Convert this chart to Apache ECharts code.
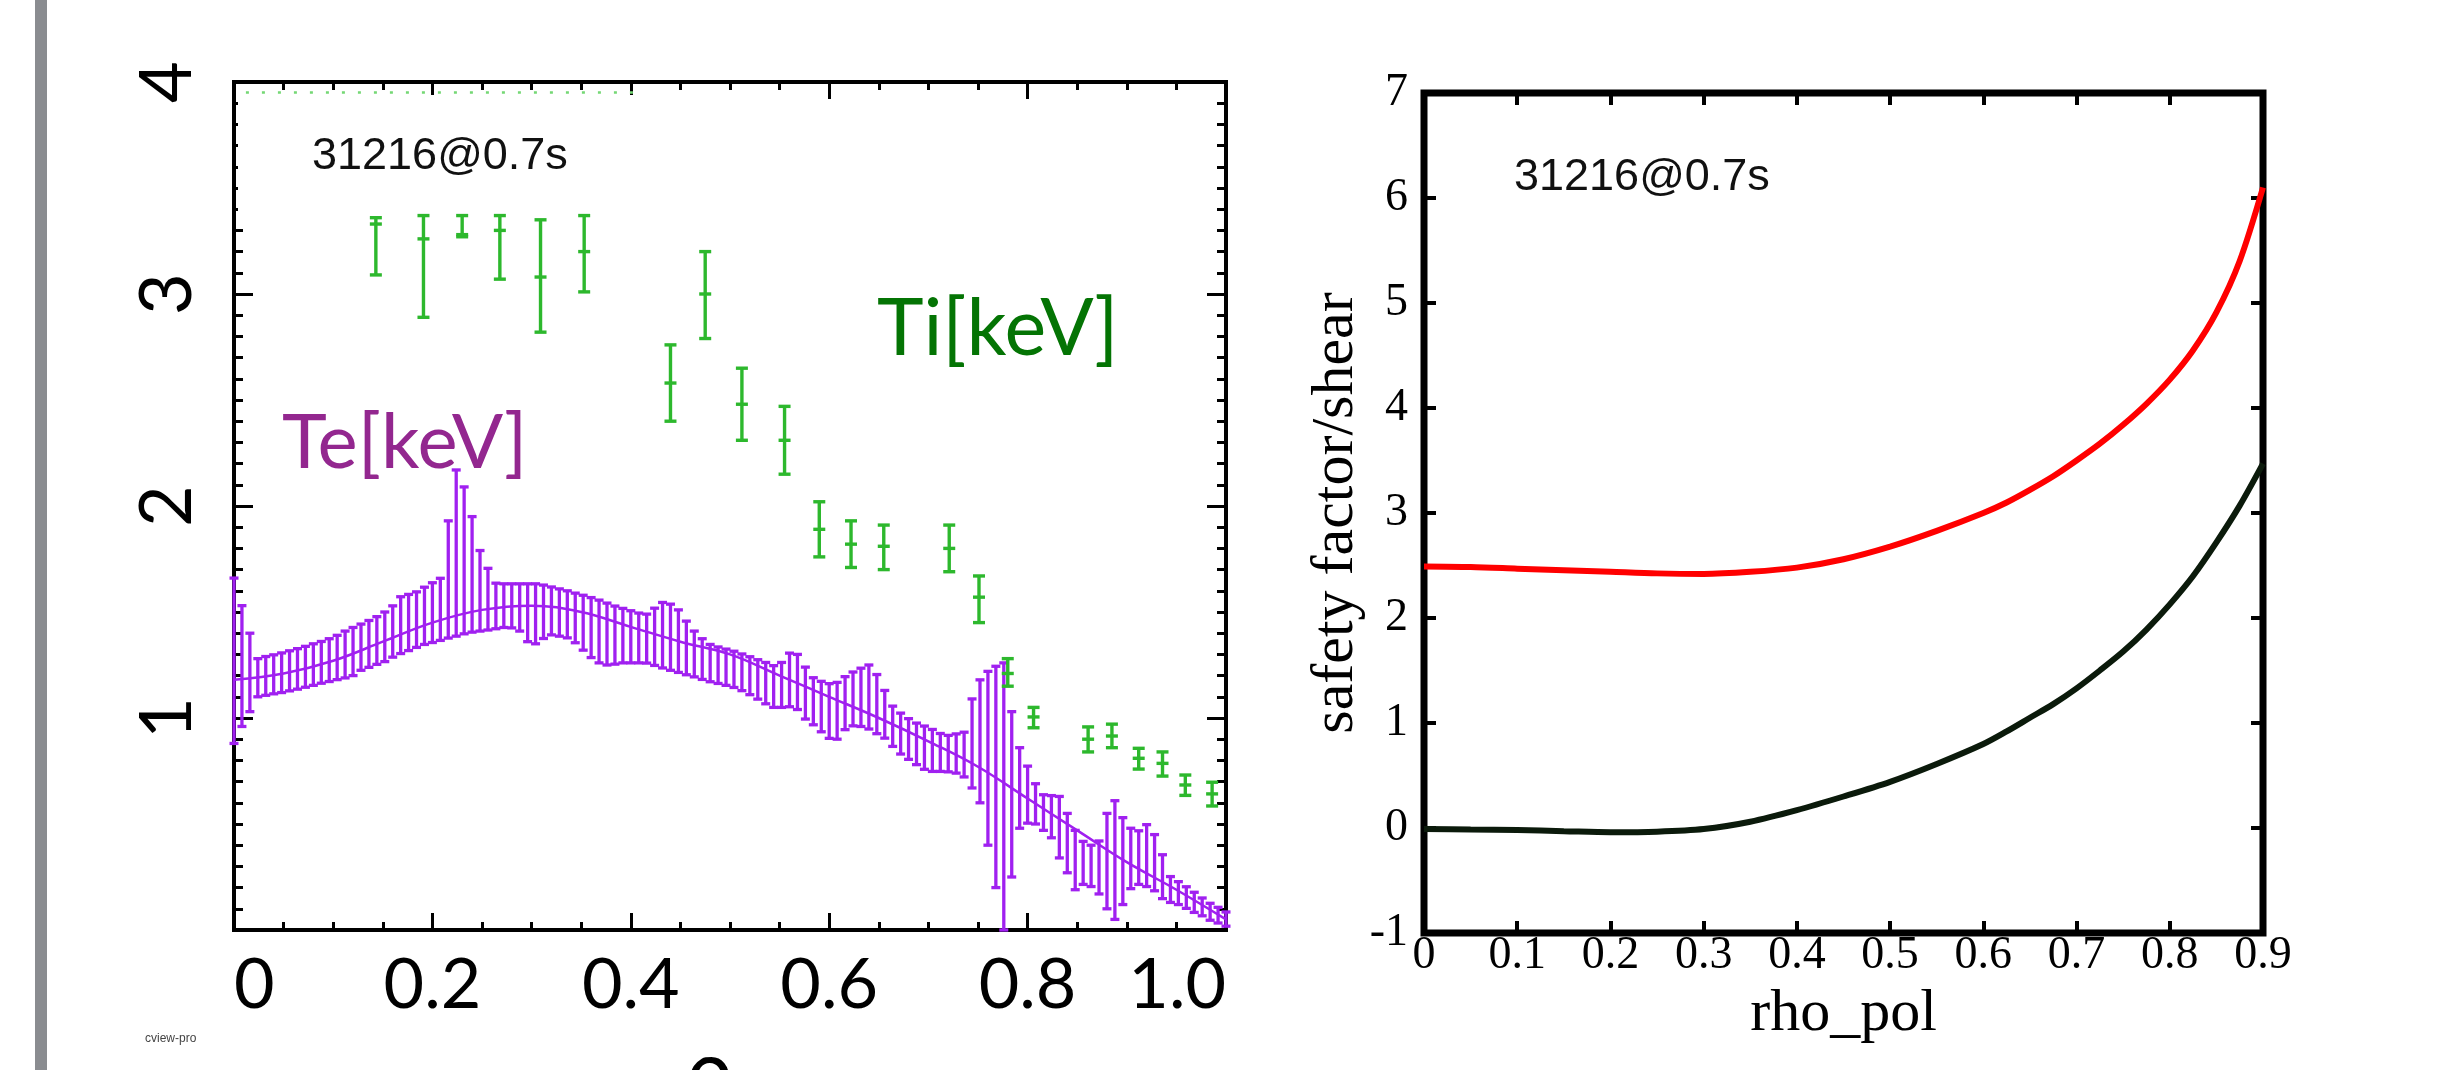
<!DOCTYPE html>
<html><head><meta charset="utf-8">
<script src="https://cdn.jsdelivr.net/npm/echarts/dist/echarts.min.js"></script>
<style>html,body{margin:0;padding:0;background:#fff}#c{width:2443px;height:1070px}</style>
</head><body><div id="c"></div>
<script>
// ---------- Left panel: Te (purple error bars + fit) and Ti (green error bars) ----------
const teRho = [0,.008,.016,.024,.032,.04,.048,.056,.064,.072,.08,.088,.096,.104,.112,.12,.128,.136,.144,.152,
  .16,.168,.176,.184,.192,.2,.208,.216,.224,.232,.24,.248,.256,.264,.272,.28,.288,.296,.304,.312,
  .32,.328,.336,.344,.352,.36,.368,.376,.384,.392,.4,.408,.416,.424,.432,.44,.448,.456,.464,.472,
  .48,.488,.496,.504,.512,.52,.528,.536,.544,.552,.56,.568,.576,.584,.592,.6,.608,.616,.624,.632,
  .64,.648,.656,.664,.672,.68,.688,.696,.704,.712,.72,.728,.736,.744,.752,.76,.768,.776,.784,.792,
  .8,.808,.816,.824,.832,.84,.848,.856,.864,.872,.88,.888,.896,.904,.912,.92,.928,.936,.944,.952,
  .96,.968,.976,.984,.992,1.0];
const teHigh = [1.66,1.53,1.40,1.28,1.29,1.298,1.307,1.317,1.327,1.338,
  1.35,1.361,1.374,1.39,1.41,1.427,1.443,1.46,1.478,1.50,
  1.529,1.572,1.583,1.595,1.617,1.638,1.659,1.93,2.17,2.09,
  1.95,1.79,1.706,1.636,1.633,1.633,1.633,1.633,1.633,1.627,
  1.618,1.609,1.60,1.589,1.579,1.568,1.556,1.542,1.528,1.517,
  1.506,1.495,1.49,1.518,1.545,1.537,1.51,1.457,1.41,1.374,
  1.347,1.335,1.325,1.315,1.302,1.289,1.275,1.262,1.247,1.262,
  1.306,1.30,1.24,1.19,1.173,1.162,1.168,1.195,1.217,1.235,
  1.25,1.205,1.13,1.056,1.023,0.997,0.976,0.962,0.946,0.927,
  0.918,0.925,0.933,1.09,1.18,1.22,1.244,1.26,1.03,0.86,
  0.773,0.69,0.638,0.634,0.63,0.55,0.47,0.418,0.40,0.42,
  0.55,0.61,0.53,0.48,0.468,0.497,0.45,0.355,0.252,0.228,
  0.204,0.178,0.151,0.126,0.107,0.085];
const teLow = [0.88,0.96,1.03,1.10,1.107,1.114,1.12,1.128,1.136,1.145,
  1.154,1.164,1.172,1.181,1.189,1.20,1.225,1.239,1.253,1.266,
  1.287,1.304,1.318,1.333,1.347,1.356,1.366,1.377,1.386,1.397,
  1.405,1.41,1.415,1.421,1.427,1.425,1.41,1.36,1.35,1.375,
  1.392,1.386,1.378,1.355,1.32,1.285,1.26,1.25,1.254,1.26,
  1.26,1.26,1.259,1.248,1.236,1.225,1.215,1.204,1.194,1.182,
  1.171,1.163,1.154,1.144,1.129,1.11,1.089,1.067,1.05,1.05,
  1.053,1.04,0.995,0.968,0.935,0.904,0.90,0.945,0.963,0.96,
  0.948,0.926,0.905,0.866,0.83,0.805,0.78,0.758,0.748,0.748,
  0.746,0.74,0.722,0.67,0.60,0.40,0.20,0.0,0.25,0.48,
  0.504,0.50,0.47,0.435,0.34,0.27,0.19,0.215,0.205,0.17,
  0.10,0.05,0.12,0.195,0.215,0.205,0.185,0.148,0.13,0.12,
  0.102,0.083,0.067,0.046,0.033,0.018];
const teFitRho = [0,0.05,0.1,0.15,0.2,0.25,0.3,0.35,0.4,0.45,0.5,0.55,0.6,0.65,0.7,0.75,0.8,0.85,0.9,0.95,1.0];
const teFit    = [1.18,1.21,1.27,1.36,1.45,1.51,1.53,1.50,1.43,1.36,1.30,1.20,1.10,1.00,0.89,0.77,0.62,0.47,0.32,0.19,0.05];

const tiRho  = [0.143,0.191,0.230,0.268,0.309,0.353,0.440,0.475,0.512,0.555,0.590,0.622,0.655,0.721,0.751,0.780,0.806,0.861,0.885,0.912,0.936,0.959,0.986];
const tiVal  = [3.33,3.26,3.28,3.30,3.08,3.20,2.58,3.00,2.48,2.31,1.89,1.82,1.81,1.80,1.57,1.21,1.005,0.90,0.915,0.81,0.786,0.684,0.642];
const tiLow  = [3.09,2.89,3.27,3.07,2.82,3.01,2.40,2.79,2.31,2.15,1.76,1.71,1.70,1.69,1.45,1.15,0.954,0.84,0.86,0.759,0.726,0.635,0.585];
const tiHigh = [3.36,3.37,3.37,3.37,3.35,3.37,2.76,3.20,2.65,2.47,2.02,1.93,1.91,1.91,1.67,1.28,1.05,0.958,0.971,0.857,0.84,0.731,0.697];
const tiClipRho = [0.012,0.415];
const tiClipVal = [3.95,3.95];

const leftXTicks = ['0','0.2','0.4','0.6','0.8','1.0'];
const leftYTicks = ['','1','2','3','4'];

// ---------- Right panel: safety factor and shear ----------
const qRho   = [0,0.05,0.1,0.15,0.2,0.25,0.3,0.35,0.4,0.45,0.5,0.55,0.6,0.625,0.65,0.675,0.7,0.725,0.75,0.775,0.8,0.825,0.85,0.875,0.9];
const qVal   = [2.49,2.485,2.47,2.455,2.44,2.425,2.42,2.44,2.48,2.56,2.68,2.83,3.0,3.1,3.22,3.35,3.5,3.66,3.84,4.04,4.27,4.55,4.91,5.4,6.1];
const shear  = [-0.01,-0.015,-0.02,-0.03,-0.04,-0.035,-0.01,0.06,0.17,0.30,0.44,0.61,0.80,0.92,1.05,1.18,1.33,1.50,1.68,1.89,2.13,2.40,2.72,3.07,3.47];
const rightXTicks = ['0','0.1','0.2','0.3','0.4','0.5','0.6','0.7','0.8','0.9'];
const rightYTicks = ['-1','0','1','2','3','4','5','6','7'];

const TE_COLOR = '#a020f0', TI_COLOR = '#2db82d';

function clampY(cs, y){ return Math.max(cs.y, Math.min(cs.y + cs.height, y)); }
function teItem(params, api){
  const cs = params.coordSys;
  const x = api.value(0);
  const pLo = api.coord([x, api.value(1)]), pHi = api.coord([x, api.value(2)]);
  const y1 = clampY(cs, pHi[1]), y2 = clampY(cs, pLo[1]);
  const hw = 4.5, st = {stroke: TE_COLOR, lineWidth: 3.3};
  return {type:'group', children:[
    {type:'line', shape:{x1:pLo[0], y1:y1, x2:pLo[0], y2:y2}, style:st},
    {type:'line', shape:{x1:pLo[0]-hw, y1:y1, x2:pLo[0]+hw, y2:y1}, style:st},
    {type:'line', shape:{x1:pLo[0]-hw, y1:y2, x2:pLo[0]+hw, y2:y2}, style:st}
  ]};
}
function tiItem(params, api){
  const cs = params.coordSys;
  const x = api.value(0);
  const pC = api.coord([x, api.value(1)]);
  const pLo = api.coord([x, api.value(2)]), pHi = api.coord([x, api.value(3)]);
  const y1 = clampY(cs, pHi[1]), y2 = clampY(cs, pLo[1]);
  const hw = 6, st = {stroke: TI_COLOR, lineWidth: 3.4};
  return {type:'group', children:[
    {type:'line', shape:{x1:pC[0], y1:y1, x2:pC[0], y2:y2}, style:st},
    {type:'line', shape:{x1:pC[0]-hw, y1:y1, x2:pC[0]+hw, y2:y1}, style:st},
    {type:'line', shape:{x1:pC[0]-hw, y1:y2, x2:pC[0]+hw, y2:y2}, style:st},
    {type:'line', shape:{x1:pC[0]-hw, y1:pC[1], x2:pC[0]+hw, y2:pC[1]}, style:st}
  ]};
}

const chart = echarts.init(document.getElementById('c'), null, {renderer:'canvas', width:2443, height:1070});

const leftTickStyle = {color:'#000', width:3};
const rightTickStyle = {color:'#000', width:4};
const noLine = {show:false, onZero:false};

const option = {
  backgroundColor: '#fff',
  animation: false,
  grid: [
    {left:234, top:82, width:992, height:848, show:true, borderColor:'#000', borderWidth:4, backgroundColor:'transparent', containLabel:false, outerBoundsMode:'none'},
    {left:1424, top:93, width:839, height:840, show:true, borderColor:'#000', borderWidth:7, backgroundColor:'transparent', containLabel:false, outerBoundsMode:'none'}
  ],
  xAxis: [
    {gridIndex:0, type:'value', position:'bottom', min:0, max:1, interval:0.2,
     axisLine:noLine, splitLine:{show:false},
     axisTick:{show:true, inside:true, length:17, lineStyle:leftTickStyle},
     minorTick:{show:true, splitNumber:4, length:8, lineStyle:leftTickStyle},
     axisLabel:{show:true, fontFamily:'Lato', fontSize:70, color:'#000', margin:20,
       alignMinLabel:'left', alignMaxLabel:'right',
       formatter: v => leftXTicks[Math.round(v/0.2)]}},
    {gridIndex:0, type:'value', position:'top', min:0, max:1, interval:0.2,
     axisLine:noLine, splitLine:{show:false},
     axisTick:{show:true, inside:true, length:17, lineStyle:leftTickStyle},
     minorTick:{show:true, splitNumber:4, length:8, lineStyle:leftTickStyle},
     axisLabel:{show:false}},
    {gridIndex:1, type:'value', position:'bottom', min:0, max:0.9, interval:0.1,
     axisLine:noLine, splitLine:{show:false},
     axisTick:{show:true, inside:true, length:12, lineStyle:rightTickStyle},
     axisLabel:{show:true, fontFamily:'Liberation Serif', fontSize:46, color:'#000', margin:0,
       formatter: v => rightXTicks[Math.round(v*10)]},
     name:'rho_pol', nameLocation:'middle', nameGap:16,
     nameTextStyle:{fontFamily:'Liberation Serif', fontSize:60, color:'#000'}},
    {gridIndex:1, type:'value', position:'top', min:0, max:0.9, interval:0.1,
     axisLine:noLine, splitLine:{show:false},
     axisTick:{show:true, inside:true, length:12, lineStyle:rightTickStyle},
     axisLabel:{show:false}}
  ],
  yAxis: [
    {gridIndex:0, type:'value', position:'left', min:0, max:4, interval:1,
     axisLine:noLine, splitLine:{show:false},
     axisTick:{show:true, inside:true, length:19, lineStyle:leftTickStyle},
     minorTick:{show:true, splitNumber:10, length:9, lineStyle:leftTickStyle},
     axisLabel:{show:true, rotate:90, fontFamily:'Lato', fontSize:72, color:'#000', margin:30,
       formatter: v => leftYTicks[Math.round(v)]}},
    {gridIndex:0, type:'value', position:'right', min:0, max:4, interval:1,
     axisLine:noLine, splitLine:{show:false},
     axisTick:{show:true, inside:true, length:19, lineStyle:leftTickStyle},
     minorTick:{show:true, splitNumber:10, length:9, lineStyle:leftTickStyle},
     axisLabel:{show:false}},
    {gridIndex:1, type:'value', position:'left', min:-1, max:7, interval:1,
     axisLine:noLine, splitLine:{show:false},
     axisTick:{show:true, inside:true, length:12, lineStyle:rightTickStyle},
     axisLabel:{show:true, fontFamily:'Liberation Serif', fontSize:46, color:'#000', margin:16,
       formatter: v => rightYTicks[Math.round(v)+1]},
     name:'safety factor/shear', nameLocation:'middle', nameGap:52, nameRotate:90,
     nameTextStyle:{fontFamily:'Liberation Serif', fontSize:60, color:'#000'}},
    {gridIndex:1, type:'value', position:'right', min:-1, max:7, interval:1,
     axisLine:noLine, splitLine:{show:false},
     axisTick:{show:true, inside:true, length:12, lineStyle:rightTickStyle},
     axisLabel:{show:false}}
  ],
  series: [
    {type:'custom', xAxisIndex:0, yAxisIndex:0, renderItem:teItem, z:3,
     encode:{x:0, y:[1,2]},
     data: teRho.map((r,i)=>[r, teLow[i], teHigh[i]])},
    {type:'line', xAxisIndex:0, yAxisIndex:0, smooth:0.4, showSymbol:false, z:4,
     lineStyle:{color:TE_COLOR, width:2.5}, itemStyle:{color:TE_COLOR},
     data: teFitRho.map((r,i)=>[r, teFit[i]])},
    {type:'custom', xAxisIndex:0, yAxisIndex:0, renderItem:tiItem, z:5,
     encode:{x:0, y:[1,2,3]},
     data: tiRho.map((r,i)=>[r, tiVal[i], tiLow[i], tiHigh[i]])},
    {type:'line', xAxisIndex:0, yAxisIndex:0, showSymbol:false, z:5,
     lineStyle:{color:'#74d874', width:2.5, type:[3,13]},
     data: tiClipRho.map((r,i)=>[r, tiClipVal[i]])},
    {type:'line', xAxisIndex:2, yAxisIndex:2, smooth:0.3, showSymbol:false, z:4,
     lineStyle:{color:'#ff0000', width:6}, itemStyle:{color:'#ff0000'},
     data: qRho.map((r,i)=>[r, qVal[i]])},
    {type:'line', xAxisIndex:2, yAxisIndex:2, smooth:0.3, showSymbol:false, z:4,
     lineStyle:{color:'#0b1a0b', width:6}, itemStyle:{color:'#0b1a0b'},
     data: qRho.map((r,i)=>[r, shear[i]])}
  ],
  graphic: [
    {type:'rect', shape:{x:35, y:0, width:12, height:1070}, style:{fill:'#8a8c90'}, z:10},
    {type:'rect', shape:{x:238, y:95, width:420, height:118}, style:{fill:'#fff'}, z:10},
    {type:'text', x:312, y:157, z:11, style:{text:'31216@0.7s', fontFamily:'Liberation Sans', fontSize:45, fill:'#111', textAlign:'left', textVerticalAlign:'middle'}},
    {type:'text', x:1514, y:178, z:11, style:{text:'31216@0.7s', fontFamily:'Liberation Sans', fontSize:45, fill:'#111', textAlign:'left', textVerticalAlign:'middle'}},
    {type:'text', x:877, y:330, z:11, style:{text:'Ti[keV]', fontFamily:'Lato', fontSize:79, fill:'#047404', textAlign:'left', textVerticalAlign:'middle'}},
    {type:'text', x:282, y:443, z:11, style:{text:'Te[keV]', fontFamily:'Lato', fontSize:76, fill:'#93278f', textAlign:'left', textVerticalAlign:'middle'}},
    {type:'text', x:145, y:1039, z:11, style:{text:'cview-pro', fontFamily:'Liberation Sans Narrow, Liberation Sans', fontSize:12, fill:'#444', textAlign:'left', textVerticalAlign:'middle'}},
    {type:'text', x:683, y:1041, z:11, style:{text:'ρ', fontFamily:'DejaVu Sans', fontSize:80, fill:'#000', textAlign:'left', textVerticalAlign:'top'}}
  ]
};
chart.setOption(option);
</script>
</body></html>
